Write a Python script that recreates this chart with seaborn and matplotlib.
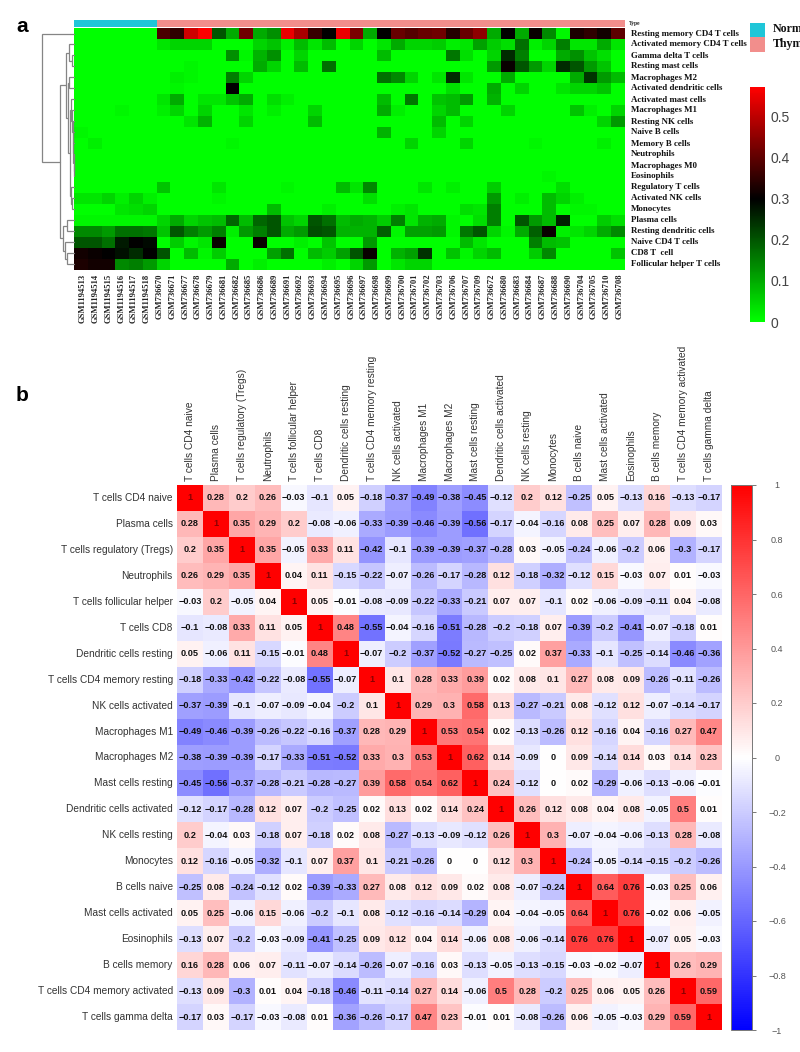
import numpy as np
import matplotlib
matplotlib.use("Agg")
import matplotlib.pyplot as plt
from matplotlib.colors import LinearSegmentedColormap, ListedColormap
from matplotlib.patches import Rectangle
import seaborn as sns

# ---------- panel a data ----------
cell_types_a = ["Resting memory CD4 T cells", "Activated memory CD4 T cells", "Gamma delta T cells",
                "Resting mast cells", "Macrophages M2", "Activated dendritic cells", "Activated mast cells",
                "Macrophages M1", "Resting NK cells", "Naive B cells", "Memory B cells", "Neutrophils",
                "Macrophages M0", "Eosinophils", "Regulatory T cells", "Activated NK cells", "Monocytes",
                "Plasma cells", "Resting dendritic cells", "Naive CD4 T cells", "CD8 T  cell",
                "Follicular helper T cells"]
samples = ["GSM1194513", "GSM1194514", "GSM1194515", "GSM1194516", "GSM1194517", "GSM1194518",
           "GSM736670", "GSM736671", "GSM736677", "GSM736678", "GSM736679", "GSM736681", "GSM736682",
           "GSM736685", "GSM736686", "GSM736689", "GSM736691", "GSM736692", "GSM736693", "GSM736694",
           "GSM736695", "GSM736696", "GSM736697", "GSM736698", "GSM736699", "GSM736700", "GSM736701",
           "GSM736702", "GSM736703", "GSM736706", "GSM736707", "GSM736709", "GSM736672", "GSM736680",
           "GSM736683", "GSM736684", "GSM736687", "GSM736688", "GSM736690", "GSM736704", "GSM736705",
           "GSM736710", "GSM736708"]
n_normal = 6
n_thymoma = 34
fractions = [
 [0,0,0,0,0,0,.38,.35,.52,.57,.2,.1,.42,.1,.13,.55,.48,.36,.3,.55,.43,.1,.3,.41,.39,.41,.42,.34,.41,.45,.1,.3,.1,.31,.14,.01,.33,.35,.32,.4],
 [0,0,0,0,0,0,.03,.05,.05,.05,0,0,0,.05,.07,.02,.08,.03,.08,0,.05,0,.03,.1,.05,.05,.06,.02,.03,.11,.06,.04,.17,.02,.05,.15,.03,.03,.1,.03],
 [0,0,0,0,0,0,0,0,0,0,0,.13,.01,.09,.13,0,.05,0,0,0,0,0,.08,0,0,0,0,.16,.04,0,.05,.25,.15,0,0,.1,.13,.07,.04,0],
 [0,0,0,0,0,0,0,0,.01,0,0,0,0,.1,.05,0,.08,0,.17,0,0,0,0,0,0,0,0,0,0,0,.12,.31,.2,.12,.05,.25,.2,.12,.07,0],
 [0,0,0,0,0,0,0,.02,.01,0,0,.15,.05,0,0,0,0,0,0,0,0,0,.17,.14,.05,0,.03,.25,.03,0,0,.1,0,0,0,0,.1,.24,.12,.08],
 [0,0,0,0,0,0,0,.01,0,0,0,.3,0,0,0,0,0,0,0,0,0,0,0,0,0,0,0,.04,0,0,.1,0,.05,0,0,.03,.05,.05,.07,0],
 [0,0,0,0,0,0,.03,.1,0,.03,.03,.07,.1,0,.04,.02,0,0,0,0,0,0,.08,0,.16,0,.07,.08,.12,0,.09,0,0,0,0,0,0,0,0,0],
 [0,0,0,.01,0,0,.02,.05,0,.05,0,0,.03,0,.02,0,0,.05,0,0,0,0,.1,.02,0,0,.05,.08,0,0,0,.05,0,0,0,0,.07,.02,0,.05],
 [0,0,0,0,0,0,0,0,.03,.09,0,0,.05,0,0,0,0,.08,0,0,0,0,0,0,0,0,.08,0,.05,0,0,0,0,0,0,0,0,0,.05,.12],
 [.01,0,0,0,0,0,0,0,0,0,0,0,0,0,0,0,0,0,0,0,0,0,.09,0,0,0,.05,0,0,0,0,0,0,0,0,0,0,0,0,0],
 [0,.02,0,0,0,0,0,0,0,0,0,.01,0,0,0,0,0,0,0,0,0,0,0,0,.05,0,0,0,.05,0,0,0,0,.01,0,0,0,0,.02,0],
 [0]*40,
 [0]*40,
 [0,0,0,0,0,0,0,0,0,0,0,0,0,0,0,0,0,0,0,0,0,0,0,0,0,0,0,0,0,0,0,0,0,0,.01,0,0,0,0,0],
 [0,0,0,0,0,0,.07,0,0,0,.03,0,0,0,0,.01,0,0,0,.08,.03,.14,0,0,0,.03,0,.02,0,0,.06,0,0,0,0,.04,0,0,0,0],
 [.03,.03,.05,.02,.05,.02,0,0,0,0,.01,0,0,0,0,0,0,0,0,0,0,.04,0,0,0,0,0,0,0,0,.12,0,.02,0,.08,.05,.02,0,0,0],
 [0,0,0,.03,.04,.05,0,0,0,0,0,0,0,0,.08,0,0,0,.02,0,0,0,0,.02,.03,0,0,0,.04,.03,.15,0,0,0,.08,0,.01,.01,0,0],
 [.01,.01,.01,.01,.01,.01,.05,.1,.05,.07,.08,.18,.08,.18,.2,.07,.05,.2,.17,.08,.1,.09,.06,.15,.03,.09,.1,.01,0,.04,.15,0,.2,.12,.08,.26,0,0,.06,.04],
 [.14,.14,.12,.17,.17,.16,.07,.2,.15,.12,.15,.02,.12,.15,.2,.1,.12,.21,.2,.09,.09,.09,.19,.01,.11,.11,.12,.01,.16,.2,.05,.01,.1,.19,.31,.02,.03,.05,.1,.14],
 [.2,.2,.17,.27,.3,.29,0,.06,.01,.03,.31,0,0,.31,0,0,.02,0,.07,0,0,.12,0,0,0,0,0,0,.08,.03,0,0,0,.15,.08,.07,0,0,0,0],
 [.32,.31,.3,.28,.25,.3,.2,0,.08,.01,.06,0,0,0,.11,.17,0,.08,.06,.11,.2,.31,0,.09,.11,.24,0,.07,.01,.05,.08,0,0,.06,.14,0,0,0,0,.07],
 [.33,.32,.32,.14,.15,.12,.05,0,0,0,0,.1,0,.02,0,0,0,0,.02,0,.05,.12,0,.03,.05,.05,0,0,0,0,0,0,0,0,0,0,0,0,0,0],
]
cbar_a_ticks = [0, 0.1, 0.2, 0.3, 0.4, 0.5]
# hierarchical merges of the row dendrogram: (left child, right child, height); children >= 100 are earlier merges
row_merges = [
 (2, 3, 2.5), (1, 100, 5), (4, 5, 5.5), (12, 13, .2), (11, 103, .4), (10, 104, .6), (9, 105, .9),
 (8, 106, 1.2), (7, 107, 1.8), (15, 16, 2.5), (14, 109, 3.5), (6, 108, 2.6), (111, 110, 4.2),
 (102, 112, 6.5), (101, 113, 8), (17, 18, 7.5), (20, 21, 7), (19, 116, 9.5), (115, 117, 11.5),
 (114, 118, 14.5), (0, 119, 32.5),
]

# ---------- panel b data ----------
cell_types_b = ["T cells CD4 naive", "Plasma cells", "T cells regulatory (Tregs)", "Neutrophils",
                "T cells follicular helper", "T cells CD8", "Dendritic cells resting",
                "T cells CD4 memory resting", "NK cells activated", "Macrophages M1", "Macrophages M2",
                "Mast cells resting", "Dendritic cells activated", "NK cells resting", "Monocytes",
                "B cells naive", "Mast cells activated", "Eosinophils", "B cells memory",
                "T cells CD4 memory activated", "T cells gamma delta"]
correlations = [
 [1,.28,.2,.26,-.03,-.1,.05,-.18,-.37,-.49,-.38,-.45,-.12,.2,.12,-.25,.05,-.13,.16,-.13,-.17],
 [.28,1,.35,.29,.2,-.08,-.06,-.33,-.39,-.46,-.39,-.56,-.17,-.04,-.16,.08,.25,.07,.28,.09,.03],
 [.2,.35,1,.35,-.05,.33,.11,-.42,-.1,-.39,-.39,-.37,-.28,.03,-.05,-.24,-.06,-.2,.06,-.3,-.17],
 [.26,.29,.35,1,.04,.11,-.15,-.22,-.07,-.26,-.17,-.28,.12,-.18,-.32,-.12,.15,-.03,.07,.01,-.03],
 [-.03,.2,-.05,.04,1,.05,-.01,-.08,-.09,-.22,-.33,-.21,.07,.07,-.1,.02,-.06,-.09,-.11,.04,-.08],
 [-.1,-.08,.33,.11,.05,1,.48,-.55,-.04,-.16,-.51,-.28,-.2,-.18,.07,-.39,-.2,-.41,-.07,-.18,.01],
 [.05,-.06,.11,-.15,-.01,.48,1,-.07,-.2,-.37,-.52,-.27,-.25,.02,.37,-.33,-.1,-.25,-.14,-.46,-.36],
 [-.18,-.33,-.42,-.22,-.08,-.55,-.07,1,.1,.28,.33,.39,.02,.08,.1,.27,.08,.09,-.26,-.11,-.26],
 [-.37,-.39,-.1,-.07,-.09,-.04,-.2,.1,1,.29,.3,.58,.13,-.27,-.21,.08,-.12,.12,-.07,-.14,-.17],
 [-.49,-.46,-.39,-.26,-.22,-.16,-.37,.28,.29,1,.53,.54,.02,-.13,-.26,.12,-.16,.04,-.16,.27,.47],
 [-.38,-.39,-.39,-.17,-.33,-.51,-.52,.33,.3,.53,1,.62,.14,-.09,0,.09,-.14,.14,.03,.14,.23],
 [-.45,-.56,-.37,-.28,-.21,-.28,-.27,.39,.58,.54,.62,1,.24,-.12,0,.02,-.29,-.06,-.13,-.06,-.01],
 [-.12,-.17,-.28,.12,.07,-.2,-.25,.02,.13,.02,.14,.24,1,.26,.12,.08,.04,.08,-.05,.5,.01],
 [.2,-.04,.03,-.18,.07,-.18,.02,.08,-.27,-.13,-.09,-.12,.26,1,.3,-.07,-.04,-.06,-.13,.28,-.08],
 [.12,-.16,-.05,-.32,-.1,.07,.37,.1,-.21,-.26,0,0,.12,.3,1,-.24,-.05,-.14,-.15,-.2,-.26],
 [-.25,.08,-.24,-.12,.02,-.39,-.33,.27,.08,.12,.09,.02,.08,-.07,-.24,1,.64,.76,-.03,.25,.06],
 [.05,.25,-.06,.15,-.06,-.2,-.1,.08,-.12,-.16,-.14,-.29,.04,-.04,-.05,.64,1,.76,-.02,.06,-.05],
 [-.13,.07,-.2,-.03,-.09,-.41,-.25,.09,.12,.04,.14,-.06,.08,-.06,-.14,.76,.76,1,-.07,.05,-.03],
 [.16,.28,.06,.07,-.11,-.07,-.14,-.26,-.07,-.16,.03,-.13,-.05,-.13,-.15,-.03,-.02,-.07,1,.26,.29],
 [-.13,.09,-.3,.01,.04,-.18,-.46,-.11,-.14,.27,.14,-.06,.5,.28,-.2,.25,.06,.05,.26,1,.59],
 [-.17,.03,-.17,-.03,-.08,.01,-.36,-.26,-.17,.47,.23,-.01,.01,-.08,-.26,.06,-.05,-.03,.29,.59,1],
]
cbar_b_ticks = [1, .8, .6, .4, .2, 0, -.2, -.4, -.6, -.8, -1]

SANS = "Liberation Sans"
SERIF = "Liberation Serif"
sns.set_theme(style="white")
W, H = 800, 1052
fig = plt.figure(figsize=(W / 100, H / 100), dpi=100, facecolor="white")


def axpx(x0, y0, x1, y1):
    return fig.add_axes([x0 / W, 1 - y1 / H, (x1 - x0) / W, (y1 - y0) / H])


def minus(s):
    return s.replace("-", "\u2212")


# ---------- panel a ----------
gbr = LinearSegmentedColormap.from_list("gbr", [(0, "#00ff00"), (0.3 / 0.573, "#000000"), (1, "#ff0000")])
ax_a = axpx(74, 28, 625, 270)
cax_a = axpx(750, 87, 765, 322)
sns.heatmap(np.array(fractions), ax=ax_a, cmap=gbr, vmin=0, vmax=0.573, cbar_ax=cax_a,
            xticklabels=False, yticklabels=False)
n_cols = len(fractions[0])
ax_a.set_xticks(np.linspace(0.65, n_cols - 0.4, len(samples)))
ax_a.set_xticklabels(samples, rotation=90, ha="center", va="top", family=SERIF, fontsize=6.2,
                     fontweight="bold", color="#222222")
ax_a.set_yticks(np.arange(len(cell_types_a)) + 0.5)
ax_a.yaxis.tick_right()
ax_a.set_yticklabels(cell_types_a, rotation=0, ha="left", va="center", family=SERIF, fontsize=6.4,
                     fontweight="bold", color="#111111")
ax_a.tick_params(axis="y", length=0, pad=4)
ax_a.tick_params(axis="x", length=0, pad=2.5)

cb_a = ax_a.collections[0].colorbar
cb_a.set_ticks(cbar_a_ticks)
cb_a.set_ticklabels([f"{t:g}" for t in cbar_a_ticks])
cb_a.outline.set_visible(False)
cax_a.tick_params(length=0, pad=4, labelsize=10, labelcolor="#444444")
for t in cax_a.get_yticklabels():
    t.set_family(SANS)

# annotation bar
ax_t = axpx(74, 20, 625, 26.5)
sample_type = [[0] * n_normal + [1] * n_thymoma]
type_colors = ["#1fc6d8", "#f28e8c"]
sns.heatmap(np.array(sample_type), ax=ax_t, cmap=ListedColormap(type_colors), cbar=False,
            xticklabels=False, yticklabels=False, vmin=0, vmax=1)
fig.text(628.5 / W, 1 - 23.5 / H, "Type", family=SERIF, fontsize=4, fontweight="bold", va="center", color="#222222")

# legend of the annotation
for y0, col, lab in zip([23, 37.5], type_colors, ["Norm", "Thym"]):
    fig.add_artist(Rectangle((750 / W, 1 - (y0 + 14.5) / H), 15 / W, 14.5 / H, transform=fig.transFigure,
                             facecolor=col, edgecolor="none"))
    fig.text(773 / W, 1 - (y0 + 6.5) / H, lab, family=SERIF, fontsize=8.6, fontweight="bold", va="center", color="#111111")

# dendrogram
ax_d = axpx(38, 28, 74, 270)
ax_d.set_xlim(36, 0)
ax_d.set_ylim(len(cell_types_a), 0)
ax_d.axis("off")
nodes = {}


def node_pos(c):
    return nodes[c] if c >= 100 else (c + 0.5, 0.0)


for k, (a, b, h) in enumerate(row_merges):
    ya, ha_ = node_pos(a)
    yb, hb = node_pos(b)
    ax_d.plot([ha_, h, h, hb], [ya, ya, yb, yb], color="#858585", lw=0.9, solid_joinstyle="miter", clip_on=False)
    nodes[100 + k] = ((ya + yb) / 2, h)

# ---------- panel b ----------
bwr = LinearSegmentedColormap.from_list("bwr_corr", ["#0000ff", "#ffffff", "#ff0000"])
corr = np.array(correlations)
corr_text = np.array([[minus(f"{v:g}") for v in row] for row in correlations])
ax_b = axpx(177, 485, 722, 1030)
cax_b = axpx(731, 485, 752, 1030)
sns.heatmap(corr, ax=ax_b, cmap=bwr, vmin=-1, vmax=1, cbar_ax=cax_b, annot=corr_text, fmt="",
            annot_kws=dict(family=SANS, fontsize=6.6, fontweight="bold", color="#111111"),
            xticklabels=cell_types_b, yticklabels=cell_types_b)
for t in ax_b.texts:
    if t.get_text() == "1":
        t.set_color("#8a0000")
ax_b.xaxis.tick_top()
ax_b.tick_params(axis="both", length=0, pad=3)
ax_b.set_xticklabels(cell_types_b, rotation=90, ha="center", va="bottom", family=SANS, fontsize=7.3, color="#333333")
ax_b.set_yticklabels(cell_types_b, rotation=0, ha="right", va="center", family=SANS, fontsize=7.3, color="#333333")

cb_b = ax_b.collections[0].colorbar
cb_b.set_ticks(cbar_b_ticks)
cb_b.set_ticklabels([minus(f"{t:g}") for t in cbar_b_ticks])
cb_b.outline.set_edgecolor("#777777")
cb_b.outline.set_linewidth(0.7)
cax_b.tick_params(length=3, width=0.7, color="#777777", pad=15, labelsize=6.5, labelcolor="#555555", right=True)
for t in cax_b.get_yticklabels():
    t.set_family(SANS)
    t.set_ha("center")

# panel letters
fig.text(16 / W, 1 - 27 / H, "a", family=SANS, fontsize=15, fontweight="bold", va="center", color="black")
fig.text(16 / W, 1 - 395 / H, "b", family=SANS, fontsize=15, fontweight="bold", va="center", color="black")

fig.savefig("out.png", dpi=100, facecolor="white")
